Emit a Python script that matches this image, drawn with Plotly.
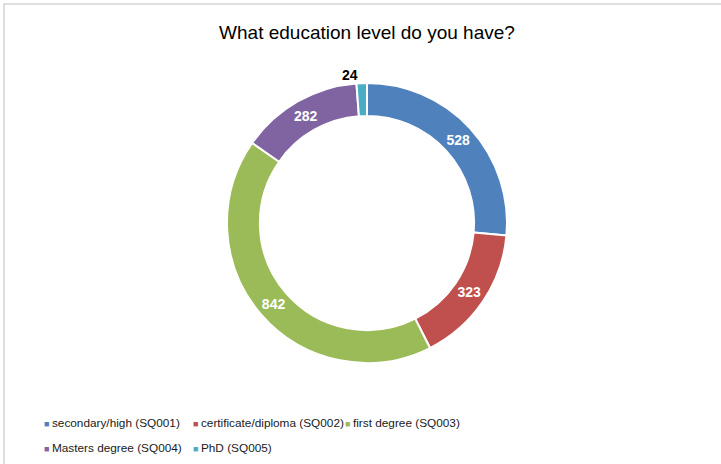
import plotly.graph_objects as go

categories = ["secondary/high (SQ001)", "certificate/diploma (SQ002)", "first degree (SQ003)",
              "Masters degree (SQ004)", "PhD (SQ005)"]
values = [528, 323, 842, 282, 24]
colors = ["#4F81BD", "#C0504D", "#9BBB59", "#8064A2", "#4BACC6"]
text_positions = ["inside", "inside", "inside", "inside", "outside"]

W, H = 721, 464
cx, cy, R = 367, 223, 140
FONT = "Liberation Sans, Arial, sans-serif"

fig = go.Figure()
fig.add_trace(go.Pie(
    labels=categories, values=values, sort=False, direction="clockwise", rotation=0,
    hole=0.765,
    marker=dict(colors=colors, line=dict(color="white", width=2)),
    texttemplate="%{value}", textposition=text_positions,
    insidetextorientation="horizontal",
    insidetextfont=dict(color="white", size=14, family=FONT, weight="bold"),
    outsidetextfont=dict(color="black", size=14, family=FONT, weight="bold"),
    domain=dict(x=[(cx - R) / W, (cx + R) / W], y=[(H - cy - R) / H, (H - cy + R) / H]),
    showlegend=False, hoverinfo="label+value",
))

# legend entries laid out like the Excel legend grid (left edge of marker, row centre)
legend_pos = [(44, 422), (193, 422), (345, 422), (44, 447), (193, 447)]
for i, (name, col) in enumerate(zip(categories, colors)):
    lname = "legend" if i == 0 else f"legend{i+1}"
    fig.add_trace(go.Scatter(
        x=[None], y=[None], mode="markers",
        name=f"<span style='color:{col};font-size:9px'>\u25A0\u00a0</span>{name}",
        marker=dict(size=1, color="rgba(0,0,0,0)"),
        legend=lname, showlegend=True, hoverinfo="skip",
    ))

legend_layouts = {}
for i, (tx, ty) in enumerate(legend_pos):
    lname = "legend" if i == 0 else f"legend{i+1}"
    legend_layouts[lname] = dict(
        x=(tx - 40) / W, y=1 - ty / H, xanchor="left", yanchor="middle",
        bgcolor="rgba(0,0,0,0)", borderwidth=0, itemwidth=30,
        font=dict(family=FONT, size=11.8, color="#1a1a1a"),
        itemclick=False, itemdoubleclick=False,
    )

fig.update_layout(
    width=W, height=H,
    margin=dict(l=0, r=0, t=0, b=0),
    paper_bgcolor="white", plot_bgcolor="white",
    title=dict(text="What education level do you have?", x=cx / W, xanchor="center",
               y=1 - 32 / H, yanchor="middle",
               font=dict(family=FONT, size=19, color="black")),
    xaxis=dict(visible=False), yaxis=dict(visible=False),
    shapes=[dict(type="rect", xref="paper", yref="paper", x0=4 / W, x1=1.02, y0=-0.02, y1=1 - 4 / H,
                 line=dict(color="#D4D4D4", width=1.5), fillcolor="rgba(0,0,0,0)", layer="below")],
    **legend_layouts,
)

fig.write_html("out.html", config={"displayModeBar": False},
               post_script="document.body.style.margin='0';")
